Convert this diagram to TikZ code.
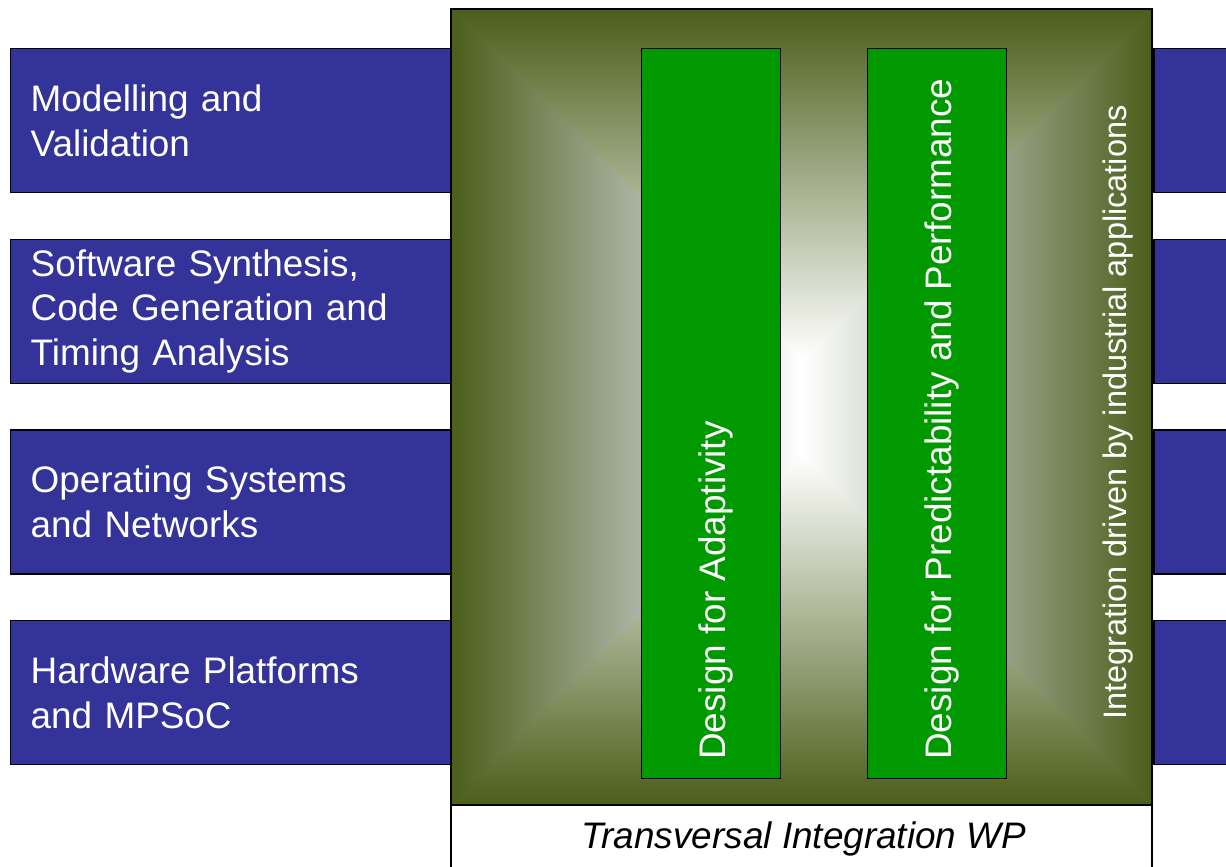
\documentclass[tikz,border=0pt]{standalone}
\usepackage{fontspec}
\setmainfont{Liberation Sans}
\usetikzlibrary{positioning}
\definecolor{wpblue}{RGB}{51,51,153}
\definecolor{wpolive}{RGB}{75,94,26}
\definecolor{wpmid}{RGB}{165,174,154}
\definecolor{wpgreen}{RGB}{0,153,0}
\pgfdeclarehorizontalshading{wpside}{100bp}{color(0bp)=(wpolive); color(25bp)=(wpolive);
  color(37.5bp)=(wpmid); color(50bp)=(white); color(62.5bp)=(wpmid);
  color(75bp)=(wpolive); color(100bp)=(wpolive)}

\begin{document}
\begin{tikzpicture}[x=0.02cm,y=-0.02cm,node distance=0.905cm,
                    wp/.style={draw=black,line width=0.8pt,fill=wpblue,text=white,
                      minimum width=8.84cm,minimum height=2.88cm,inner xsep=0.4cm,
                      text width=8.04cm,align=left,
                      font=\fontsize{21}{25.5}\selectfont},
                    wpstub/.style={draw=black,line width=0.8pt,fill=wpblue,
                      minimum width=2cm,minimum height=2.88cm},
                    design/.style={draw=black,line width=0.6pt,fill=wpgreen,
                      minimum width=2.78cm,minimum height=14.6cm},
                    vtext/.style={rotate=90,anchor=base west,inner sep=0pt,text=white,
                      font=\fontsize{21}{25}\selectfont}]

  \useasboundingbox (0,0) rectangle (1226,866);

  	\node[wp,anchor=north west] (A) at (10,48)	{Modelling and\\Validation};
  	\node[wp](B) [below=of A]   	   			{Software Synthesis,\\Code Generation and\\Timing Analysis};
	\node[wp](C) [below=of B]   	   			{Operating Systems\\and Networks};
	\node[wp](D) [below=of C]   	   			{Hardware Platforms\\and MPSoC};

	\node[wpstub,anchor=west](E) at ([xshift=14cm]A.east)	{};
	\node[wpstub,anchor=west](F) at ([xshift=14cm]B.east)	{};
	\node[wpstub,anchor=west](G) at ([xshift=14cm]C.east)	{};
	\node[wpstub,anchor=west](H) at ([xshift=14cm]D.east)	{};

	\shade[shading=wpside] (451,9) rectangle (1152,805);
	\shade[top color=wpolive,middle color=wpmid,bottom color=white]
		(451,9) -- (1152,9) -- (801.5,359.5) -- cycle;
	\shade[bottom color=wpolive,middle color=wpmid,top color=white]
		(451,805) -- (1152,805) -- (801.5,454.5) -- cycle;
	\draw[line width=1.1pt] (451,9) rectangle (1152,805);
	\draw[line width=0.8pt] (451,805) -- (451,880) (1152,805) -- (1152,880);

	\node[design,anchor=north west](P) at (641,48)	{};
	\node[design](Q) [right=1.72cm of P]		{};

	\node[vtext](P1) at (725,760)			{Design for Adaptivity};
	\node[vtext](Q1) at (951,760)			{Design for Predictability and Performance};
	\node[vtext,font=\fontsize{18.5}{22}\selectfont](R) at (1126,720)
							{Integration driven by industrial applications};

	\node[anchor=base,font=\fontsize{21}{25}\selectfont\itshape](T) at (804,848)
							{Transversal Integration WP};

\end{tikzpicture}
\end{document}
